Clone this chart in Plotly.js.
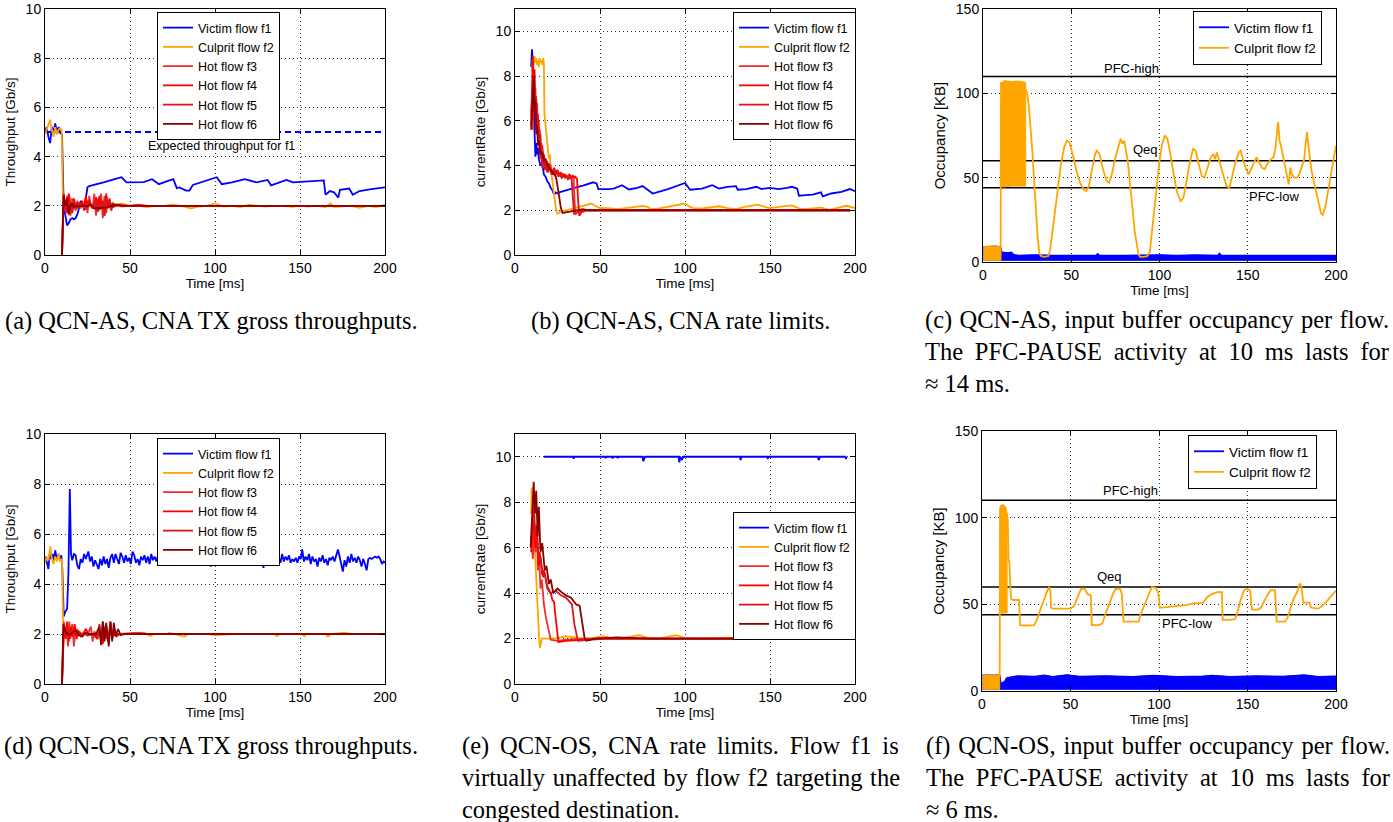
<!DOCTYPE html>
<html><head><meta charset="utf-8">
<script src="https://cdn.plot.ly/plotly-3.0.1.min.js"></script>
<style>html,body{margin:0;padding:0;background:#fff}#chart{width:1393px;height:822px}</style>
</head><body><div id="chart"></div>
<script>
// ---------------- DATA ----------------
const flowNames = ['Victim flow f1','Culprit flow f2','Hot flow f3','Hot flow f4','Hot flow f5','Hot flow f6'];
const xTicks = [0,50,100,150,200];
const rateTicks = [0,2,4,6,8,10];
const occTicks = [0,50,100,150];
const pfcLevels = [110, 60, 44];
const pfcLabels = ['PFC-high','Qeq','PFC-low'];
const expectedF1 = [[0,5],[200,5]];
const expectedLabel = 'Expected throughput for f1';

// (a) QCN-AS throughput [time ms, Gb/s]
const a_f1 = [[0,5.0],[1,5.2],[2,4.8],[3,4.55],[4,5.2],[5,5.0],[6,5.35],[7,5.0],[8,5.2],[9,4.95],[10,4.9],[11,2.0],[12,1.6],[13,1.2],[14,1.3],[15,1.45],[16,1.5],[17,1.45],[18,1.5],[19,1.65],[20,1.9],[21,2.2],[22,2.1],[23,2.0],[24,2.3],[25,2.75],[26,2.8],[30,2.86],[35,2.96],[40,3.06],[45,3.16],[48,2.95],[52,2.95],[58,2.96],[63,3.08],[67,2.88],[72,3.0],[75.5,3.08],[77.5,2.72],[79,2.75],[83,2.62],[85,2.62],[87,2.85],[95,3.02],[101,3.16],[104,2.88],[110,2.95],[117.6,3.08],[124.5,2.95],[131,3.05],[133,2.83],[138,2.95],[142,3.05],[146,2.95],[156,2.98],[164,3.03],[165,2.45],[167.6,2.6],[170,2.55],[172.5,2.33],[173.5,2.65],[179,2.7],[181,2.45],[185,2.6],[192,2.68],[200,2.75]];
const a_f2 = [[0,4.9],[1,5.1],[2,5.3],[3,5.5],[4,5.1],[5,4.8],[6,5.2],[7,4.9],[8,5.1],[9,5.15],[9.8,5.1],[10.5,2.4],[11,2.3],[12,1.9],[13,2.2],[14,1.6],[15,2.3],[16,1.9],[17,2.1],[18,2.0],[19,1.9],[20,2.0],[22,2.1],[24,2.0],[26,2.0],[28,1.95],[30,2.0],[35,2.05],[40,2.0],[45,2.1],[50,2.0],[55,2.0],[60,1.95],[65,2.0],[70,2.0],[75,2.05],[80,2.0],[86,1.9],[90,1.97],[95,2.0],[100,2.1],[105,1.97],[110,2.0],[115,1.95],[120,2.05],[125,2.0],[130,1.97],[135,2.0],[140,2.0],[145,1.96],[150,2.0],[155,1.97],[160,2.0],[165,1.95],[168,2.1],[170,1.95],[175,1.97],[180,2.0],[185,1.92],[190,2.0],[195,1.95],[200,2.05]];
const a_f3 = [[10,0],[11,2.5],[12,1.8],[13,2.4],[14,2.0],[15,1.6],[16,2.3],[17,2.0],[18,1.8],[19,2.2],[20,2.0],[21,1.9],[22,2.1],[23,2.0],[24,2.3],[25,1.7],[26,2.4],[27,2.0],[28,1.9],[29,2.5],[30,1.6],[31,2.3],[32,1.8],[33,2.5],[34,1.5],[35,2.4],[36,1.7],[37,2.2],[38,1.9],[39,2.1],[40,2.0],[42,2.05],[45,1.98],[50,2.0],[55,2.05],[60,2.0],[200,2.0]];
const a_f4 = [[10,0],[10.8,2.3],[12,2.1],[13,1.7],[14,2.5],[15,2.0],[16,1.8],[17,2.2],[18,1.9],[19,2.1],[20,1.95],[22,2.2],[23,1.8],[24,2.4],[25,1.9],[26,2.2],[28,1.9],[30,2.3],[31,1.8],[32,2.4],[33,1.9],[34,2.2],[35,1.6],[36,2.5],[37,1.9],[38,2.1],[40,1.95],[43,2.05],[48,2.0],[55,2.02],[60,2.0],[200,2.0]];
const a_f5 = [[10,0],[11,2.4],[12,1.9],[13,2.2],[14,1.8],[15,2.1],[16,1.7],[17,2.3],[18,2.0],[19,1.9],[20,2.1],[22,2.0],[24,1.85],[25,2.2],[27,2.0],[29,1.9],[30,2.35],[31,1.75],[32,2.1],[33,2.0],[34,2.2],[35,1.6],[36,2.4],[37,2.1],[38,2.3],[39,1.8],[40,2.1],[42,2.0],[45,2.02],[50,2.0],[200,2.0]];
const a_f6 = [[10,0],[11,2.45],[12,2.0],[13,2.3],[14,1.65],[15,2.0],[16,2.1],[17,1.95],[18,2.0],[20,1.97],[22,2.0],[25,2.0],[27,2.05],[29,1.9],[32,1.9],[35,1.92],[38,1.98],[42,2.05],[45,2.0],[50,2.0],[200,2.0]];

// (b) QCN-AS rate limits [time ms, Gb/s]
const b_f1 = [[9.5,8.4],[10,9.2],[10.5,8.6],[11,6.5],[11.5,5.5],[12,4.4],[12.5,5.0],[13,4.5],[13.5,4.8],[14,4.3],[15,4.0],[16,4.1],[17,3.6],[18,3.5],[19,3.3],[20,3.2],[21,3.0],[22,2.9],[23,2.7],[24,2.8],[25,2.75],[26,2.8],[30,2.9],[35,3.0],[40,3.1],[45,3.2],[46,3.25],[48,3.2],[49,2.95],[55,2.95],[58,2.97],[63,3.12],[67,2.93],[72,3.0],[75,3.08],[78,2.92],[81,2.75],[90,2.95],[100,3.22],[103,2.92],[110,2.97],[116,3.12],[120,2.97],[125,3.05],[130,3.08],[131,2.92],[136,2.95],[142,3.05],[145,2.95],[150,3.0],[155,2.95],[160,3.0],[163,3.05],[166,2.97],[167,2.65],[171,2.68],[175,2.7],[180,2.8],[181,2.62],[186,2.75],[192,2.82],[197,2.95],[200,2.85]];
const b_f2 = [[10,8.2],[10.5,8.8],[11,8.5],[11.5,8.9],[12,8.6],[12.5,8.8],[13,8.5],[13.5,8.7],[14,8.4],[14.5,8.8],[15,8.6],[15.5,8.7],[16,8.5],[16.5,8.8],[17,8.6],[17.3,6.3],[18,5.8],[18.5,5.3],[19,5.0],[19.5,4.6],[20,4.3],[20.5,4.5],[21,3.9],[21.5,3.6],[22,3.2],[22.5,2.9],[23,2.6],[23.5,2.3],[24,2.1],[25,1.85],[27,1.95],[30,2.0],[35,2.1],[40,2.2],[45,2.3],[47,2.2],[50,2.1],[55,2.1],[60,2.05],[65,2.1],[70,2.15],[75,2.2],[78,2.15],[80,2.05],[85,2.08],[90,2.15],[95,2.2],[100,2.3],[103,2.15],[105,2.1],[110,2.08],[115,2.12],[120,2.18],[125,2.1],[130,2.05],[135,2.15],[140,2.2],[143,2.25],[147,2.15],[150,2.1],[155,2.15],[160,2.2],[163,2.22],[166,2.12],[168,2.05],[175,2.08],[180,2.12],[185,2.02],[190,2.1],[195,2.2],[200,2.1]];
const b_f3 = [[9.5,6.2],[10,6.6],[10.5,5.6],[11,8.0],[11.5,6.9],[12,7.5],[12.5,6.2],[13,6.8],[13.5,5.5],[14,6.0],[14.5,5.1],[15,5.4],[15.5,4.6],[16,4.9],[17,4.3],[18,4.0],[19,4.2],[20,3.8],[21,3.95],[22,3.7],[23,3.85],[24,3.6],[25,3.75],[26,3.6],[27,3.5],[28,3.65],[29,3.5],[30,3.55],[31,3.4],[32,3.5],[33,3.45],[34,3.5],[34.5,3.4],[35,2.5],[35.5,1.8],[36.5,1.9],[38,1.95],[40,2.0],[45,2.0],[50,2.0],[60,2.0],[197,2.0]];
const b_f4 = [[9.5,5.8],[10.5,8.9],[11,7.5],[11.5,8.3],[12,6.5],[12.5,7.0],[13,5.8],[13.5,6.3],[14,5.2],[14.5,5.6],[15,4.6],[15.5,5.0],[16,4.2],[17,4.5],[18,4.0],[19,3.7],[20,4.1],[21,3.8],[22,3.6],[23,3.9],[24,3.7],[25,3.8],[26,3.6],[27,3.7],[28,3.5],[29,3.6],[30,3.55],[31,3.5],[32,3.6],[33,3.5],[34,3.55],[35,3.45],[35.5,3.5],[36,3.45],[36.5,3.4],[37,2.6],[37.8,1.75],[39,1.9],[42,2.0],[48,2.0],[60,2.0],[197,2.0]];
const b_f5 = [[9.5,6.4],[10.2,7.2],[10.8,6.0],[11.3,7.8],[11.8,6.4],[12.3,7.1],[12.8,5.6],[13.3,6.0],[13.8,4.9],[14.3,5.4],[14.8,4.3],[15.3,4.8],[16,3.9],[16.8,4.4],[17.5,3.8],[18.5,4.1],[19.5,3.7],[20.5,3.9],[21.5,3.6],[22.5,3.8],[23.5,3.55],[24.5,3.7],[25.5,3.5],[26.5,3.6],[27.5,3.45],[28.5,3.55],[29.5,3.45],[30.5,3.5],[31.5,3.4],[32.5,3.45],[33.3,3.4],[34,2.4],[34.7,1.85],[36,1.9],[38,1.95],[42,2.0],[50,2.0],[197,2.0]];
const b_f6 = [[9.5,5.6],[10.3,7.0],[11,8.0],[11.5,6.4],[12,6.9],[12.5,5.4],[13,5.8],[13.5,4.9],[14,5.1],[15,4.5],[16,4.6],[17,4.2],[18,4.3],[19,4.0],[20,3.9],[21,3.8],[22,3.7],[23,3.6],[24,3.5],[25,3.1],[26,2.6],[27,2.1],[28,1.88],[30,1.9],[33,1.95],[36,2.0],[40,2.05],[43,2.0],[50,2.0],[197,2.0]];

// (c) QCN-AS occupancy [time ms, KB]; envelopes are [time, low, high]
const c_f1_env = [[0.3,1,8.8],[4,1,9],[7,1,9.2],[10,1,8.5],[10.3,1,5.8],[12,1,5.5],[14,1,5.2],[16,1,5.6],[17.5,1,4.2],[20,1,3.8],[30,1,4.1],[40,1,3.8],[50,1,3.7],[64,1,3.8],[65,1,4.8],[66,1,3.8],[80,1,3.7],[100,1,4.1],[110,1,3.7],[120,1,4.0],[133,1,3.8],[134,1,5.0],[135,1,3.8],[150,1,3.8],[160,1,3.9],[180,1,3.7],[200,1,3.8]];
const c_f2_env1 = [[0.3,1,9.2],[3,1,9.4],[6,1,9.2],[9,1,9.4],[10.2,1,9.0]];
const c_f2_env2 = [[10.2,45,106],[12,44.5,107.5],[16,45,107],[20,45,107.3],[24.2,45,106.5]];
const c_f2 = [[10,8.5],[10.2,106],[24.3,102],[25,100],[26,92],[27,80],[28,65],[29,48],[30,30],[31,14],[32,5],[33,3.5],[35,3],[37,3.5],[38,7],[40,22],[42,40],[44,57],[46,68],[47.5,72],[49,71],[51,63],[53,54],[55,47],[57,43],[58.5,42],[60,45],[62,56],[63.5,64],[64.5,66],[66,64],[68,55],[70,48],[71.5,47],[73,52],[75,62],[76.5,68],[78,73],[79,70],[80,72],[82,60],[84,40],[86,18],[88,5],[89,3],[91,3],[93,3.5],[94.5,6],[96,20],[98,42],[100,60],[101.5,70],[103,75],[104.5,73],[106,65],[108,52],[110,41],[112,36],[113.5,38],[115,46],[117,58],[119,67],[120.5,66],[122,59],[124,51],[125.5,50],[127,55],[129,62],[130.5,64],[131.5,61],[132.5,65],[134,60],[136,52],[138,45],[139.5,44],[141,50],[143,59],[145,65],[146,66],[147.5,60],[149,55],[150.5,52],[152,55],[153.5,59],[155,62],[156.5,59],[158,56],[159.5,55],[161,58],[163,61],[164.5,62],[165.5,66],[166.5,78],[167.2,83],[168,72],[169,68],[170.5,60],[172,52],[173.2,46],[174.2,56],[175,52],[176.5,50],[178,50],[179.5,53],[181,58],[182,61],[183,72],[183.6,77],[184.5,68],[186,55],[188,45],[190,35],[191.5,29],[192.5,28],[194,33],[196,45],[198,58],[199.2,66],[200,69]];

// (d) QCN-OS throughput
const d_f1 = [[0,5.1],[1,4.9],[2,4.6],[2.7,5.2],[3.5,5.0],[4.5,5.2],[5.3,4.95],[6,5.35],[7,4.95],[8,5.2],[9,4.95],[9.6,5.15],[10.2,4.6],[11,2.7],[12,2.9],[13,3.0],[13.8,4.5],[14.6,7.8],[15.3,5.2],[16,4.95],[17,5.2],[18,5.15],[19,4.75],[20,4.6],[21,5.0],[22,4.85],[23,5.2],[24,5.0],[25.5,5.3],[26.5,4.9],[27.5,5.1],[28.5,4.7],[29.5,4.95],[30.5,4.8],[31.5,4.6],[32.5,5.0],[33.5,4.75],[34.5,5.1],[35.5,4.8],[36.5,5.0],[37.5,4.65],[38.5,5.05],[39.5,5.2],[40.5,4.85],[41.5,5.2],[42.5,5.0],[43.5,4.8],[44.5,5.25],[45.5,5.1],[46.5,4.85],[47.5,5.15],[48.5,4.9],[49.5,5.05],[50.5,4.8],[51.5,5.3],[52.5,5.15],[53.5,4.85],[54.5,5.0],[55.5,4.75],[56.5,5.1],[57.5,4.95],[58.5,5.15],[59.5,4.85],[60.5,5.1],[61.5,4.8],[62.5,5.2],[63.5,4.95],[64.5,5.1],[65.5,4.9],[66.5,5.15],[67.5,4.85],[68.5,5.05],[69.5,4.8],[70.5,5.0],[71.5,4.9],[72.5,5.1],[73.5,4.95],[74.5,5.05],[75.5,4.85],[76.5,5.0],[77.5,4.75],[78.5,5.1],[79.5,5.3],[80.5,4.9],[81.5,5.05],[82.5,4.85],[83.5,5.2],[84.5,4.95],[85.5,5.1],[86.5,4.8],[87.5,5.3],[88.5,5.0],[89.5,5.15],[90.5,4.85],[91.5,5.2],[92.5,5.05],[93.5,4.9],[94.5,5.15],[95.5,4.8],[96.5,5.05],[97.5,4.7],[98.5,4.85],[99.5,4.75],[100.5,5.0],[101.5,4.8],[102.5,5.1],[103.5,4.9],[104.5,5.25],[105.5,4.85],[106.5,5.0],[107.5,4.9],[108.5,5.15],[109.5,4.85],[110.5,5.05],[111.5,4.95],[112.5,5.3],[113.5,4.9],[114.5,5.1],[115.5,4.85],[116.5,5.0],[117.5,4.8],[118.5,5.2],[119.5,5.0],[120.5,4.9],[121.5,5.25],[122.5,4.85],[123.5,5.05],[124.5,4.95],[125.5,5.15],[126.5,4.85],[127.5,5.0],[128.5,4.65],[129.5,5.05],[130.5,4.9],[131.5,5.15],[132.5,4.8],[133.5,5.0],[134.5,4.9],[135.5,5.1],[136.5,4.75],[137.5,5.05],[138.5,4.85],[139.5,5.2],[140.5,4.9],[141.5,5.1],[142.5,4.95],[143.5,5.15],[144.5,4.85],[145.5,5.0],[146.5,4.9],[147.5,5.05],[148.5,4.85],[149.5,5.1],[150.5,5.0],[151.3,5.38],[152.3,4.9],[153.3,5.1],[154.3,4.95],[155.3,5.2],[156.3,4.8],[157.3,5.1],[158.3,4.9],[159.3,5.0],[160.3,4.7],[161.3,5.05],[162.3,4.9],[163.3,5.15],[164.3,4.85],[165.3,5.0],[166.3,4.75],[167.3,5.05],[168.3,4.95],[169.3,5.1],[170.3,4.9],[171.3,5.2],[172.3,5.38],[173.3,5.1],[174.3,4.8],[175.2,4.5],[176.2,4.95],[177.2,4.7],[178.2,5.1],[179.2,4.85],[180.2,5.2],[181.2,4.9],[182.2,5.05],[183.2,4.85],[184.2,5.1],[185.2,4.95],[186.2,4.7],[187.2,5.0],[188.2,4.8],[189.2,4.55],[190.2,5.0],[191.2,5.05],[192.2,5.0],[193.2,5.05],[194.2,5.1],[195.2,5.05],[196.2,5.1],[197.2,5.0],[198.2,4.8],[199.2,4.9],[200,4.85]];
const d_f2 = [[0,4.85],[1,5.1],[2,4.95],[3.2,5.5],[4,5.0],[5,4.8],[6,5.1],[7,4.9],[8,5.2],[9,4.9],[10,5.0],[10.6,2.6],[11.5,2.1],[13,1.9],[15,2.1],[20,2.0],[30,2.0],[40,2.0],[50,2.02],[58,2.05],[62,1.92],[64,2.0],[72,2.0],[73,2.05],[82,1.9],[84,2.0],[96,2.0],[100,1.95],[110,2.0],[135,2.0],[136.5,1.92],[138,2.0],[151,2.0],[152.5,1.92],[154,2.0],[165,2.0],[166.5,1.9],[168,2.0],[176,2.05],[180,2.0],[200,2.0]];
const d_f3 = [[10,0],[11,2.5],[12,1.9],[12.8,2.4],[13.5,1.5],[14.3,2.5],[15,1.8],[16,2.4],[17,1.5],[18,2.2],[19,1.9],[20,2.1],[21,2.0],[23,2.05],[25,1.95],[27,2.3],[28,1.7],[29,2.1],[31,1.95],[35,2.0],[45,2.0],[50,2.02],[55,2.05],[60,2.0],[200,2.0]];
const d_f4 = [[10,0],[11.2,2.3],[12.2,1.8],[13,2.5],[14,1.7],[15,2.3],[16,1.9],[17.5,2.4],[18.5,1.8],[20,2.1],[22,1.95],[24,2.2],[26,1.95],[28,2.0],[30,1.9],[33,2.1],[34,1.6],[35,2.3],[36,1.8],[38,2.1],[40,1.95],[45,2.0],[200,2.0]];
const d_f5 = [[10,0],[11,2.2],[12,2.0],[13,2.2],[14.5,1.9],[16,2.1],[17,1.95],[19,2.15],[21,1.9],[23,2.0],[25,1.95],[28,2.0],[31,1.8],[32,2.4],[33,1.6],[34,2.5],[35,1.9],[36,2.3],[37,1.7],[38.5,2.5],[39.5,1.8],[41,2.2],[42,1.9],[44,2.0],[50,2.0],[200,2.0]];
const d_f6 = [[10,0],[10.8,2.4],[12,2.1],[14,1.95],[16,2.05],[18,2.15],[20,1.95],[22,1.9],[24,2.05],[26,2.0],[30,2.0],[32,2.3],[33,1.55],[34,2.5],[35,1.7],[36,2.45],[37.5,1.5],[38.5,2.5],[39.5,1.7],[40.5,2.45],[41.5,1.9],[43,2.2],[44.5,1.95],[47,2.0],[200,2.0]];

// (e) QCN-OS rate limits
const e_f1 = [[17,10],[34,10],[34.5,9.92],[35,10],[53,10],[53.4,9.94],[53.8,10],[57,10],[57.4,9.93],[57.8,10],[60,10],[60.4,9.94],[60.8,10],[75,10],[75.5,9.8],[76,9.97],[76.5,10],[96.3,10],[96.7,9.75],[97.2,10],[98.3,9.85],[98.8,10],[132.3,10],[132.7,9.85],[133.2,10],[148.3,10],[148.7,9.9],[149.1,10],[178.2,10],[178.6,9.85],[179,9.95],[179.5,10],[194.3,10],[194.7,9.9],[195,10]];
const e_f2 = [[9.5,7.5],[9.8,8.65],[10.3,8.0],[10.8,7.2],[11.3,6.2],[11.8,5.4],[12.3,4.5],[12.7,3.8],[13.2,3.2],[13.7,2.8],[14.3,1.87],[14.7,1.58],[15.1,1.87],[15.7,2.0],[20,2.0],[25,2.02],[30,2.1],[35,2.05],[40,2.0],[45,2.02],[52,2.1],[57,2.02],[62,2.0],[68,2.08],[73,2.15],[78,2.03],[85,2.0],[90,2.08],[95,2.15],[100,2.02],[110,2.0],[120,2.02],[130,2.05],[140,2.02],[148,2.12],[153,2.02],[158,2.05],[162,2.1],[168,2.02],[173,2.1],[176,2.15],[180,2.02],[187,2.05],[191,2.1],[196,2.05],[200,2.05]];
const e_f3 = [[9.5,6.5],[10.5,5.5],[11.2,7.0],[12,5.8],[12.8,6.8],[13.5,5.0],[14.2,5.5],[15,4.2],[15.8,4.6],[17,3.5],[18,3.0],[19.5,2.4],[21,1.95],[25,1.9],[30,1.95],[40,2.0],[200,2.0]];
const e_f4 = [[9.5,5.8],[11,7.2],[12,6.0],[13,6.5],[14,5.2],[15,5.6],[16.5,4.7],[17.5,4.9],[19,4.2],[21,4.0],[22,3.7],[23,3.6],[23.5,3.2],[24.5,2.5],[25.5,1.85],[30,1.9],[38,1.95],[50,2.0],[200,2.0]];
const e_f5 = [[9.5,6.0],[11,8.0],[12,6.5],[12.8,7.0],[13.8,5.5],[14.5,5.8],[16,4.8],[17,5.0],[19,4.3],[21,4.0],[24,4.1],[27,3.9],[30,3.8],[32,3.6],[33.5,3.5],[35,2.6],[37,1.9],[45,1.95],[55,2.0],[200,2.0]];
const e_f6 = [[9.2,6.0],[11,8.9],[11.8,7.5],[12.5,8.5],[13.3,6.5],[14,7.8],[15,5.8],[16,6.2],[17.5,5.0],[18.5,5.2],[20,4.4],[21,4.6],[22.5,4.0],[25,4.2],[28,4.0],[30,3.9],[33,3.8],[36,3.5],[38,3.45],[39.5,2.8],[41,2.0],[42,1.9],[47,2.0],[60,2.05],[80,2.0],[200,2.0]];

// (f) QCN-OS occupancy
const f_f1_env = [[0.3,1,9],[10,1,9],[10.5,1,4],[13,1,5.5],[14,1,7.5],[20,1,8.5],[30,1,8.3],[35,1,9],[40,1,8.2],[48,1,9.2],[55,1,8.3],[70,1,8.6],[85,1,8.1],[97,1,8.9],[110,1,8.2],[125,1,8.4],[130,1,8.9],[140,1,8.2],[155,1,8.5],[170,1,8.3],[182,1,9.1],[190,1,8.2],[200,1,8.4]];
const f_f2_env1 = [[0.3,1,9.2],[5,1,9.4],[10,1,9.2]];
const f_f2_env2 = [[10.3,45,107],[12,45,107.5],[13.5,45,106],[14.2,45,102]];
const f_f2 = [[10,8],[10.2,106],[14.2,102],[14.6,98],[15,76],[15.5,74],[16,60],[16.5,53],[18,52.5],[21,52.5],[21.5,38],[25,37.8],[29.5,38],[31,41],[33,47],[35,53],[37,58],[38,60],[38.6,58],[39,48],[40,47.5],[45,47.5],[50,47.5],[52,49],[54,54],[56,59],[58,59],[59.5,56],[61.5,55],[62,38],[66,38],[68,39],[70,45],[72,51],[74,56],[75.5,59],[78,59],[79,56],[80,40],[85,40],[88.5,40],[89.5,44],[92,50],[94,55],[96,60],[98,59.5],[99.5,57],[100.5,48],[105,48.5],[110,49],[115,49.5],[120,50.5],[125,51],[127,54],[130,56],[133,57],[135.5,57],[136,41],[140,41],[143,41.5],[144.5,46],[146,52],[148,58],[149.5,59],[151.5,58],[152.5,47],[156,47],[157.5,48],[159,51],[161,55],[163,58],[165.5,58],[166.5,40],[171,40],[172.5,42],[174,47],[176,53],[178,57],[179.5,62],[180.5,60],[181.5,51],[185,51],[186,48],[190,47.5],[192,49],[195,52],[198,56],[200,58]];

// captions
const capA = '(a) QCN-AS, CNA TX gross throughputs.';
const capB = '(b) QCN-AS, CNA rate limits.';
const capC = ['(c) QCN-AS, input buffer occupancy per flow.','The PFC-PAUSE activity at 10 ms lasts for','\u2248 14 ms.'];
const capD = '(d) QCN-OS, CNA TX gross throughputs.';
const capE = ['(e) QCN-OS, CNA rate limits. Flow f1 is','virtually unaffected by flow f2 targeting the','congested destination.'];
const capF = ['(f) QCN-OS, input buffer occupancy per flow.','The PFC-PAUSE activity at 10 ms lasts for','\u2248 6 ms.'];

// ---------------- STYLE / BUILD ----------------
const W = 1393, H = 822;
const COL = ['#0000ff','#ffa500','#f03030','#ff0000','#d81818','#8b0000'];
const SANS = '"Liberation Sans", Arial, sans-serif';
const SERIF = '"Liberation Serif", "Times New Roman", serif';
const LW = 1.8;
const traces = [];
const ax = k => (k === 1 ? '' : String(k));

function addLine(pts, color, k, extra) {
  traces.push(Object.assign({
    type: 'scatter', mode: 'lines',
    x: pts.map(p => p[0]), y: pts.map(p => p[1]),
    xaxis: 'x' + ax(k), yaxis: 'y' + ax(k),
    line: {color: color, width: LW},
    hoverinfo: 'skip', showlegend: false
  }, extra || {}));
}
function addLegendLine(pts, i, k) {
  addLine(pts, COL[i], k, {name: flowNames[i], showlegend: true, legend: 'legend' + ax(k)});
}
function addBand(env, color, k) {
  const t = env.map(e => e[0]);
  traces.push({
    type: 'scatter', mode: 'lines',
    x: t.concat(t.slice().reverse()),
    y: env.map(e => e[2]).concat(env.map(e => e[1]).reverse()),
    fill: 'toself', fillcolor: color, line: {color: color, width: 1},
    xaxis: 'x' + ax(k), yaxis: 'y' + ax(k), hoverinfo: 'skip', showlegend: false
  });
}
function addLevels(k) {
  pfcLevels.forEach(v => addLine([[0, v], [200, v]], '#000000', k, {line: {color: '#000', width: 1.5}}));
}

// (a)
addLine(expectedF1, COL[0], 1, {line: {color: COL[0], width: LW, dash: '6px,4px'}});
[a_f1, a_f2, a_f3, a_f4, a_f5, a_f6].forEach((s, i) => addLegendLine(s, i, 1));
// (b)
[b_f1, b_f2, b_f3, b_f4, b_f5, b_f6].forEach((s, i) => addLegendLine(s, i, 2));
// (c)
addLevels(3);
addBand(c_f1_env, COL[0], 3);
addLegendLine(c_f1_env.map(e => [e[0], e[2]]), 0, 3);
addBand(c_f2_env1, COL[1], 3);
addBand(c_f2_env2, COL[1], 3);
addLegendLine(c_f2, 1, 3);
// (d)
[d_f1, d_f2, d_f3, d_f4, d_f5, d_f6].forEach((s, i) => addLegendLine(s, i, 4));
// (e)
[e_f1, e_f2, e_f3, e_f4, e_f5, e_f6].forEach((s, i) => addLegendLine(s, i, 5));
// (f)
addLevels(6);
addBand(f_f1_env, COL[0], 6);
addLegendLine(f_f1_env.map(e => [e[0], e[2]]), 0, 6);
addBand(f_f2_env1, COL[1], 6);
addBand(f_f2_env2, COL[1], 6);
addLegendLine(f_f2, 1, 6);

// panel geometry in px: [left,right] and [top,bottom]
const panels = [
  {x: [45, 385], y: [9, 255], yr: [0, 10], yt: rateTicks, title: 'Throughput [Gb/s]', yfs: 13.5},
  {x: [515, 855], y: [9, 255], yr: [0, 11], yt: rateTicks, title: 'currentRate [Gb/s]', yfs: 13.5},
  {x: [983, 1336], y: [9, 262], yr: [0, 150], yt: occTicks, title: 'Occupancy [KB]', yfs: 15},
  {x: [45, 385], y: [434, 684], yr: [0, 10], yt: rateTicks, title: 'Throughput [Gb/s]', yfs: 13.5},
  {x: [515, 855], y: [434, 684], yr: [0, 11], yt: rateTicks, title: 'currentRate [Gb/s]', yfs: 13.5},
  {x: [982, 1336], y: [431, 691], yr: [0, 150], yt: occTicks, title: 'Occupancy [KB]', yfs: 15}
];
const layout = {
  width: W, height: H, margin: {l: 0, r: 0, t: 0, b: 0},
  paper_bgcolor: '#fff', plot_bgcolor: '#fff', hovermode: false,
  font: {family: SANS, color: '#000', size: 13},
  annotations: [], shapes: []
};
const common = {
  showline: true, linecolor: '#000', linewidth: 1, mirror: 'ticks',
  ticks: 'inside', ticklen: 5, tickcolor: '#000', zeroline: false,
  showgrid: true, gridcolor: '#333', griddash: '1px,3px', gridwidth: 1,
  tickfont: {family: SANS, size: 14, color: '#000'}, automargin: false,
  ticklabeloverflow: 'allow'
};
panels.forEach((p, i) => {
  const k = i + 1;
  layout['xaxis' + ax(k)] = Object.assign({}, common, {
    domain: [p.x[0] / W, p.x[1] / W], range: [0, 200], tickvals: xTicks,
    anchor: 'y' + ax(k),
    title: {text: 'Time [ms]', font: {family: SANS, size: 13.5}, standoff: 2}
  });
  layout['yaxis' + ax(k)] = Object.assign({}, common, {
    domain: [1 - p.y[1] / H, 1 - p.y[0] / H], range: p.yr, tickvals: p.yt,
    anchor: 'x' + ax(k),
    title: {text: p.title, font: {family: SANS, size: p.yfs}, standoff: 6}
  });
});

// legends (positions in px: left, top, font size)
const legPos = [[157, 12, 12.5], [733, 12, 12.5], [1193, 11, 13.5], [157, 438, 12.5], [733, 512, 12.5], [1188, 435, 13.5]];
legPos.forEach((lp, i) => {
  layout['legend' + ax(i + 1)] = {
    x: lp[0] / W, y: 1 - lp[1] / H, xanchor: 'left', yanchor: 'top',
    bgcolor: '#fff', bordercolor: '#000', borderwidth: 1,
    font: {family: SANS, size: lp[2], color: '#000'}, itemwidth: 30, tracegroupgap: 0
  };
});

// in-plot labels
layout.annotations.push({xref: 'x', yref: 'y', x: 104, y: 4.45, text: expectedLabel, showarrow: false, font: {family: SANS, size: 12.5}});
const lblC = [[84, 115], [92, 66.6], [165, 38.8]];
const lblF = [[84, 115.4], [72.3, 66], [116, 38.8]];
lblC.forEach((p, j) => layout.annotations.push({xref: 'x3', yref: 'y3', x: p[0], y: p[1], text: pfcLabels[j], showarrow: false, font: {family: SANS, size: 13}}));
lblF.forEach((p, j) => layout.annotations.push({xref: 'x6', yref: 'y6', x: p[0], y: p[1], text: pfcLabels[j], showarrow: false, font: {family: SANS, size: 13}}));

// captions
const CAP = 24.5;
const cv = document.createElement('canvas').getContext('2d');
cv.font = CAP + 'px "Liberation Serif"';
function just(line, width) {
  const n = line.split(' ').length - 1;
  const ws = Math.max(0, (width - cv.measureText(line).width) / n);
  return '<span style="word-spacing:' + ws.toFixed(2) + 'px">' + line + '</span>';
}
function cap(text, xpx, ypx, anchor) {
  layout.annotations.push({xref: 'paper', yref: 'paper', x: xpx / W, y: 1 - ypx / H,
    xanchor: anchor, yanchor: 'middle', align: 'left', text: text, showarrow: false,
    font: {family: SERIF, size: CAP, color: '#000'}});
}
cap(capA, 211, 321, 'center');
cap(capB, 680, 321, 'center');
cap(just(capC[0], 464) + '<br>' + just(capC[1], 464) + '<br>' + capC[2], 923, 351.5, 'left');
cap(capD, 211, 746, 'center');
cap(just(capE[0], 438) + '<br>' + just(capE[1], 438) + '<br>' + capE[2], 460, 777, 'left');
cap(just(capF[0], 464) + '<br>' + just(capF[1], 464) + '<br>' + capF[2], 924, 777, 'left');

Plotly.newPlot('chart', traces, layout, {staticPlot: true, displayModeBar: false});
</script></body></html>
